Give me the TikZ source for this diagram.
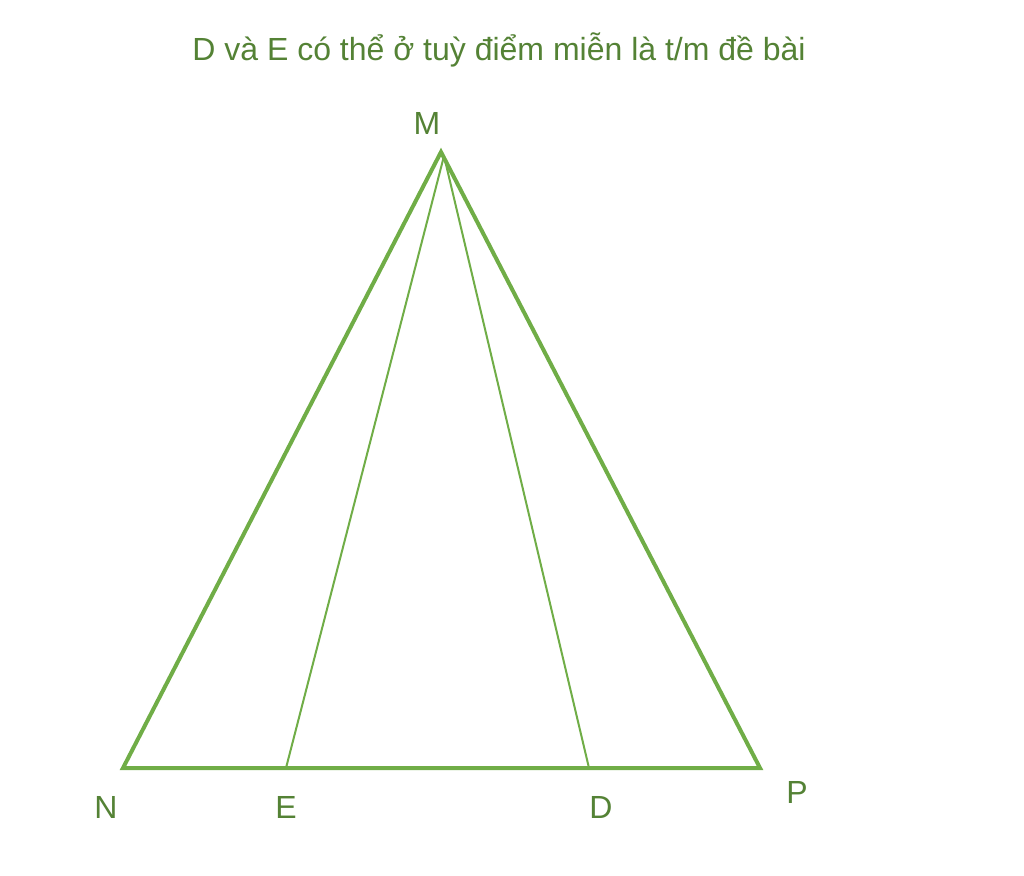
\documentclass[tikz,border=0pt]{standalone}
\usepackage{fontspec}
\setmainfont{Liberation Sans}
\definecolor{linegreen}{HTML}{70AD47}
\definecolor{textgreen}{HTML}{548235}
\begin{document}
\begin{tikzpicture}[x=0.75pt,y=-0.75pt,
  lbl/.style={text=textgreen,font=\fontsize{24}{28}\selectfont,inner sep=0pt},
  side/.style={draw=linegreen,line width=3pt,line join=miter},
  cev/.style={draw=linegreen,line width=1.5pt}]
\useasboundingbox (0,0) rectangle (1024,875);
\coordinate (M) at (441,152);
\coordinate (N) at (123,768);
\coordinate (P) at (760,768);
\coordinate (E) at (286,768);
\coordinate (D) at (589,768);
\coordinate (Mi) at (444,156);
\draw[cev] (Mi) -- (E);
\draw[cev] (Mi) -- (D);
\draw[side] (M) -- (N) -- (P) -- cycle;
\node[lbl] (tM) at (427,123) {M};
\node[lbl] (tN) at (106,807) {N};
\node[lbl] (tE) at (286,807) {E};
\node[lbl] (tD) at (601,807) {D};
\node[lbl] (tP) at (797,792) {P};
\node[lbl] (title) at (499,50) {D và E có thể ở tuỳ điểm miễn là t/m đề bài};
\end{tikzpicture}
\end{document}
